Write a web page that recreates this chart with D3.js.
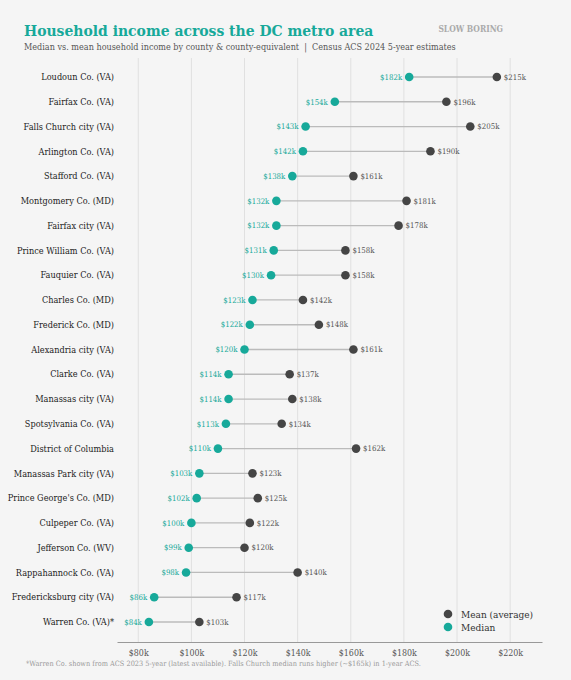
<!DOCTYPE html>
<html lang="en">
<head>
  <meta charset="UTF-8">
  <title>Household income across the DC metro area</title>
  <script src="https://d3js.org/d3.v7.min.js"></script>
  <style>
    body { margin: 0; background: #f5f5f5; }
    svg { display: block; font-family: "DejaVu Serif Condensed", "DejaVu Serif", serif; }
  </style>
</head>
<body>
  <svg width="571" height="680"></svg>
  <script>
    const places = [
      "Loudoun Co. (VA)", "Fairfax Co. (VA)", "Falls Church city (VA)", "Arlington Co. (VA)",
      "Stafford Co. (VA)", "Montgomery Co. (MD)", "Fairfax city (VA)", "Prince William Co. (VA)",
      "Fauquier Co. (VA)", "Charles Co. (MD)", "Frederick Co. (MD)", "Alexandria city (VA)",
      "Clarke Co. (VA)", "Manassas city (VA)", "Spotsylvania Co. (VA)", "District of Columbia",
      "Manassas Park city (VA)", "Prince George's Co. (MD)", "Culpeper Co. (VA)", "Jefferson Co. (WV)",
      "Rappahannock Co. (VA)", "Fredericksburg city (VA)", "Warren Co. (VA)*"
    ];
    // values in $ thousands
    const median = [182, 154, 143, 142, 138, 132, 132, 131, 130, 123, 122, 120, 114, 114, 113, 110, 103, 102, 100, 99, 98, 86, 84];
    const mean   = [215, 196, 205, 190, 161, 181, 178, 158, 158, 142, 148, 161, 137, 138, 134, 162, 123, 125, 122, 120, 140, 117, 103];
    const ticks = [80, 100, 120, 140, 160, 180, 200, 220];

    const teal = "#17a99a", dark = "#454545";
    const svg = d3.select("svg");

    const x = d3.scaleLinear().domain([72, 232]).range([117, 542]);
    const y = d3.scalePoint().domain(places).range([77, 622]);

    // title block
    svg.append("text").attr("x", 24).attr("y", 36)
      .attr("font-size", 15.5).attr("font-weight", "bold").attr("fill", teal)
      .text("Household income across the DC metro area");
    svg.append("text").attr("x", 24).attr("y", 50)
      .attr("font-size", 9).attr("fill", "#555").style("white-space", "pre")
      .text("Median vs. mean household income by county & county-equivalent  |  Census ACS 2024 5-year estimates");
    svg.append("text").attr("x", 503).attr("y", 32).attr("text-anchor", "end")
      .attr("font-size", 8.4).attr("font-weight", "bold").attr("fill", "#aaa")
      .text("SLOW BORING");

    // grid
    svg.append("g").selectAll("line").data(ticks).join("line")
      .attr("x1", d => x(d)).attr("x2", d => x(d))
      .attr("y1", 58).attr("y2", 642)
      .attr("stroke", "#e0e0e0").attr("stroke-width", 1);

    // x axis
    const ax = svg.append("g").attr("transform", "translate(0,642)")
      .call(d3.axisBottom(x).tickValues(ticks).tickSize(0).tickPadding(8).tickFormat(d => "$" + d + "k"));
    ax.attr("font-family", null);
    ax.select(".domain").attr("stroke", "#999").attr("stroke-width", 1.2);
    ax.selectAll("text").attr("font-size", 8.8).attr("fill", "#555");

    // category labels
    svg.append("g").selectAll("text").data(places).join("text")
      .attr("x", 114).attr("y", d => y(d)).attr("dy", "0.35em")
      .attr("text-anchor", "end").attr("font-size", 9.1).attr("fill", "#222")
      .text(d => d);

    const rows = places.map((p, i) => ({ p, med: median[i], mean: mean[i] }));
    const g = svg.append("g").selectAll("g").data(rows).join("g");

    g.append("line")
      .attr("x1", d => x(d.med)).attr("x2", d => x(d.mean))
      .attr("y1", d => y(d.p)).attr("y2", d => y(d.p))
      .attr("stroke", "#bbb").attr("stroke-width", 1.3);
    g.append("circle").attr("cx", d => x(d.mean)).attr("cy", d => y(d.p)).attr("r", 4.3).attr("fill", dark);
    g.append("circle").attr("cx", d => x(d.med)).attr("cy", d => y(d.p)).attr("r", 4.3).attr("fill", teal);

    g.append("text").attr("x", d => x(d.med) - 7).attr("y", d => y(d.p)).attr("dy", "0.35em")
      .attr("text-anchor", "end").attr("font-size", 7.8).attr("fill", teal)
      .text(d => "$" + d.med + "k");
    g.append("text").attr("x", d => x(d.mean) + 7).attr("y", d => y(d.p)).attr("dy", "0.35em")
      .attr("font-size", 7.8).attr("fill", "#555")
      .text(d => "$" + d.mean + "k");

    // legend
    const legend = [["Mean (average)", dark], ["Median", teal]];
    const lg = svg.append("g").selectAll("g").data(legend).join("g")
      .attr("transform", (d, i) => `translate(448,${614 + i * 13})`);
    lg.append("circle").attr("r", 4.3).attr("fill", d => d[1]);
    lg.append("text").attr("x", 13).attr("dy", "0.35em").attr("font-size", 10).attr("fill", "#333").text(d => d[0]);

    // footnote
    svg.append("text").attr("x", 26).attr("y", 666)
      .attr("font-size", 7.3).attr("fill", "#999")
      .text("*Warren Co. shown from ACS 2023 5-year (latest available). Falls Church median runs higher (~$165k) in 1-year ACS.");
  </script>
</body>
</html>
